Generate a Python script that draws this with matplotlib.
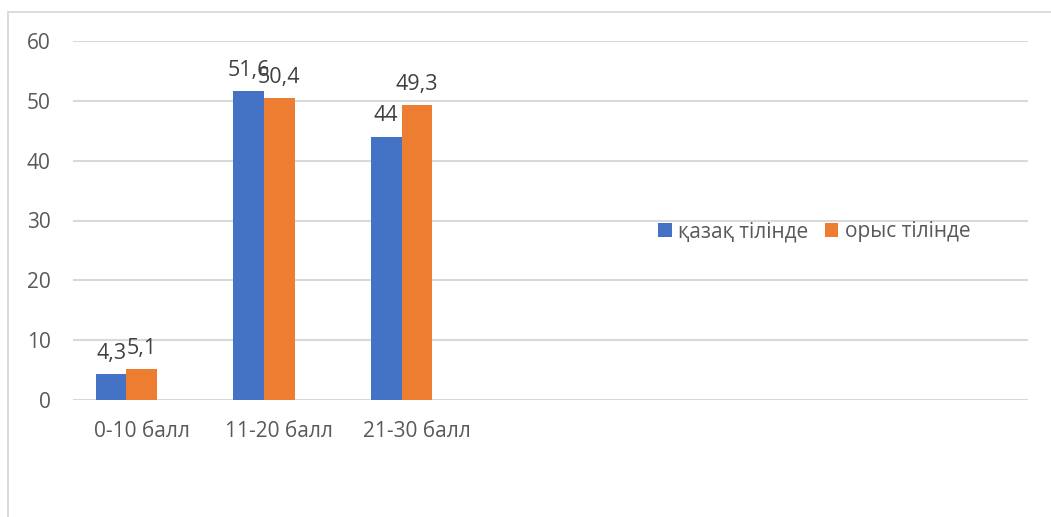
import matplotlib
matplotlib.use("Agg")
import matplotlib.pyplot as plt
from matplotlib.patches import Rectangle
import numpy as np

categories = ["0-10 балл", "11-20 балл", "21-30 балл", "", "", "", ""]
series_names = ["қазақ тілінде", "орыс тілінде"]
kazakh = [4.3, 51.6, 44]
russian = [5.1, 50.4, 49.3]
kazakh_labels = ["4,3", "51,6", "44"]
russian_labels = ["5,1", "50,4", "49,3"]
yticks = [0, 10, 20, 30, 40, 50, 60]

plt.rcParams['font.family'] = ['Open Sans', 'Noto Sans', 'DejaVu Sans']

W, H = 1051, 517
fig = plt.figure(figsize=(W / 100, H / 100), dpi=100)

# outer chart frame
fig.patches.append(Rectangle((8 / W, -0.1), 1.2, (H - 12) / H + 0.1, transform=fig.transFigure,
                             fill=False, edgecolor='#d9d9d9', linewidth=1.3))

ax = fig.add_axes([73 / W, 117 / H, (1028 - 73) / W, (400 - 41) / H])

bw = 0.222
x = np.arange(len(categories))
n = len(kazakh)
b1 = ax.bar(x[:n] - bw, kazakh, width=bw, color='#4472C4', label=series_names[0], zorder=3)
b2 = ax.bar(x[:n], russian, width=bw, color='#ED7D31', label=series_names[1], zorder=3)

for bars, labs in ((b1, kazakh_labels), (b2, russian_labels)):
    for r, t in zip(bars, labs):
        ax.annotate(t, (r.get_x() + r.get_width() / 2, r.get_height()), xytext=(0, 11),
                    textcoords='offset points', ha='center', va='baseline',
                    fontsize=15.5, color='#404040', zorder=4)

ax.set_xlim(-0.5, 6.445)
ax.set_ylim(0, 60)
ax.set_yticks(yticks)
ax.set_xticks(x)
ax.set_xticklabels(categories)
ax.yaxis.grid(True, color='#d9d9d9', linewidth=1.5, zorder=0)
ax.set_axisbelow(True)
for s in ax.spines.values():
    s.set_visible(False)
ax.tick_params(axis='both', length=0, labelsize=15, labelcolor='#595959')
ax.tick_params(axis='y', pad=16)
ax.tick_params(axis='x', pad=15)

leg = ax.legend(loc='center', bbox_to_anchor=(0.776, 0.468), ncol=2, frameon=False,
                fontsize=15, labelcolor='#595959', handlelength=0.65, handleheight=0.65,
                handletextpad=0.3, columnspacing=0.8)

fig.savefig('out.png', dpi=100)
